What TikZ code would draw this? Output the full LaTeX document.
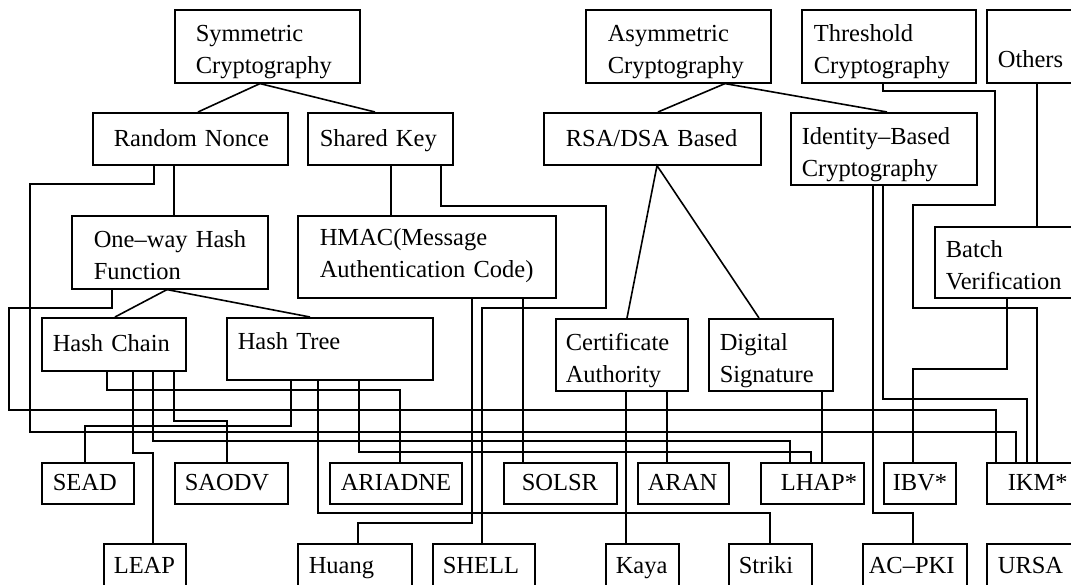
\documentclass[tikz,border=0pt]{standalone}
\usepackage{fontspec}
\setmainfont{Liberation Serif}

\tikzset{
  box/.style={draw, line width=1.6pt, anchor=north west, align=left, inner ysep=0pt,
    text height=17pt, text depth=2pt,
    execute at begin node={\exhyphenpenalty=10000 \hyphenpenalty=10000},
    font=\fontsize{24.5}{32}\selectfont},
  twoline/.style={text depth=26pt},
  link/.style={line width=1.6pt},
}

\begin{document}
\begin{tikzpicture}[x=1pt, y=-1pt]
  \useasboundingbox (0,0) rectangle (1071,585);
  \fill[white] (0,0) rectangle (1071,585);

  % categories
  \node[box, twoline, inner xsep=21pt, text width=143pt, minimum height=73pt] (sym) at (174,9) {Symmetric\\Cryptography};
  \node[box, twoline, inner xsep=22pt, text width=141pt, minimum height=73pt] (asym) at (585,9) {Asymmetric\\Cryptography};
  \node[box, twoline, inner xsep=12pt, text width=150pt, minimum height=73pt] (thr) at (801,9) {Threshold\\Cryptography};
  \node[box, inner xsep=11pt, text width=80pt, minimum height=73pt] (oth) at (986,9) {\raisebox{-14pt}[\height][\depth]{Others}};

  \node[box, inner xsep=21pt, text width=153pt, minimum height=52pt] (rn) at (92,112) {Random~Nonce};
  \node[box, inner xsep=12pt, text width=121pt, minimum height=52pt] (sk) at (307,112) {Shared~Key};
  \node[box, inner xsep=22pt, text width=173pt, minimum height=52pt] (rsa) at (543,112) {RSA/DSA~Based};
  \node[box, twoline, inner xsep=11pt, text width=164pt, minimum height=72pt] (ibc) at (790,112) {Identity–Based\\Cryptography};

  \node[box, twoline, inner xsep=22pt, text width=152pt, minimum height=73pt] (owhf) at (71,215) {One–way~Hash\\Function};
  \node[box, twoline, text depth=39pt, inner xsep=22pt, text width=214pt, minimum height=82pt] (hmac) at (297,215) {HMAC(Message\\Authentication~Code)};
  \node[box, twoline, inner xsep=11pt, text width=125pt, minimum height=71pt] (bv) at (934,226) {Batch\\Verification};

  \node[box, inner xsep=11pt, text width=122pt, minimum height=53pt] (hc) at (41,317) {Hash~Chain};
  \node[box, inner xsep=11pt, text width=184pt, minimum height=62pt] (ht) at (226,317) {\raisebox{6.5pt}[\height][\depth]{Hash~Tree}};
  \node[box, twoline, inner xsep=10pt, text width=112pt, minimum height=72pt] (ca) at (555,318) {Certificate\\Authority};
  \node[box, twoline, inner xsep=11pt, text width=102pt, minimum height=72pt] (ds) at (708,318) {Digital\\Signature};

  % protocols
  \node[box, inner xsep=11pt, text width=70pt, minimum height=41pt] (sead) at (41,462) {SEAD};
  \node[box, inner xsep=10pt, text width=93pt, minimum height=41pt] (saodv) at (174,462) {SAODV};
  \node[box, inner xsep=11pt, text width=110pt, minimum height=41pt] (ariadne) at (329,462) {ARIADNE};
  \node[box, inner xsep=18pt, text width=77pt, minimum height=41pt] (solsr) at (503,462) {SOLSR};
  \node[box, inner xsep=10pt, text width=71pt, minimum height=41pt] (aran) at (637,462) {ARAN};
  \node[box, inner xsep=20pt, text width=63pt, minimum height=41pt] (lhap) at (760,462) {LHAP*};
  \node[box, inner xsep=9pt, text width=54pt, minimum height=41pt] (ibv) at (883,462) {IBV*};
  \node[box, inner xsep=21pt, text width=60pt, minimum height=41pt] (ikm) at (986,462) {IKM*};

  \node[box, inner xsep=10pt, text width=62pt, minimum height=44pt] (leap) at (103,543) {LEAP};
  \node[box, inner xsep=11pt, text width=92pt, minimum height=44pt] (huang) at (297,543) {Huang};
  \node[box, inner xsep=10pt, text width=82pt, minimum height=44pt] (shell) at (432,543) {SHELL};
  \node[box, inner xsep=10pt, text width=53pt, minimum height=44pt] (kaya) at (605,543) {Kaya};
  \node[box, inner xsep=10pt, text width=63pt, minimum height=44pt] (striki) at (728,543) {Striki};
  \node[box, inner xsep=6pt, text width=92pt, minimum height=44pt] (acpki) at (862,543) {AC–PKI};
  \node[box, inner xsep=11pt, text width=80pt, minimum height=44pt] (ursa) at (986,543) {URSA};

  % tree branches
  \draw[link] (rn.north -| 198,0) -- (sym.south -| 260,0) -- (sk.north -| 375,0);
  \draw[link] (rsa.north -| 658,0) -- (asym.south -| 725,0) -- (ibc.north -| 887,0);
  \draw[link] (hc.north -| 115,0) -- (owhf.south -| 167,0) -- (ht.north -| 310,0);
  \draw[link] (ca.north -| 627,0) -- (rsa.south -| 657,0) -- (ds.north -| 759,0);

  % straight drops
  \draw[link] (rn.south -| 174,0) -- (owhf.north -| 174,0);
  \draw[link] (sk.south -| 391,0) -- (hmac.north -| 391,0);
  \draw[link] (hmac.south -| 523,0) -- (solsr.north -| 523,0);
  \draw[link] (ca.south -| 626,0) -- (kaya.north -| 626,0);
  \draw[link] (ca.south -| 667,0) -- (aran.north -| 667,0);
  \draw[link] (ds.south -| 822,0) -- (lhap.north -| 822,0);
  \draw[link] (oth.south -| 1037,0) -- (bv.north -| 1037,0);

  % routed links
  \draw[link] (rn.south -| 154,0) |- (30,184) |- (1016,432) -- (ikm.north -| 1016,0);
  \draw[link] (owhf.south -| 112,0) |- (9,308) |- (996,410) -- (ikm.north -| 996,0);
  \draw[link] (sk.south -| 441,0) |- (606,206) |- (482,308) -- (shell.north -| 482,0);
  \draw[link] (hmac.south -| 472,0) |- (358,523) -- (huang.north -| 358,0);
  \draw[link] (hc.south -| 107,0) |- (400,390) -- (ariadne.north -| 400,0);
  \draw[link] (hc.south -| 133,0) |- (153,453) -- (leap.north -| 153,0);
  \draw[link] (hc.south -| 153,0) |- (790,441) -- (lhap.north -| 790,0);
  \draw[link] (hc.south -| 174,0) |- (227,421) -- (saodv.north -| 227,0);
  \draw[link] (ht.south -| 291,0) |- (85,426) -- (sead.north -| 85,0);
  \draw[link] (ht.south -| 318,0) |- (770,513) -- (striki.north -| 770,0);
  \draw[link] (ht.south -| 359,0) |- (811,452) -- (lhap.north -| 811,0);
  \draw[link] (ibc.south -| 873,0) |- (913,513) -- (acpki.north -| 913,0);
  \draw[link] (ibc.south -| 883,0) |- (1027,399) -- (ikm.north -| 1027,0);
  \draw[link] (thr.south -| 883,0) |- (995,91) |- (913,205) |- (1037,308) -- (ikm.north -| 1037,0);
  \draw[link] (bv.south -| 1007,0) |- (913,369) -- (ibv.north -| 913,0);
\end{tikzpicture}
\end{document}
